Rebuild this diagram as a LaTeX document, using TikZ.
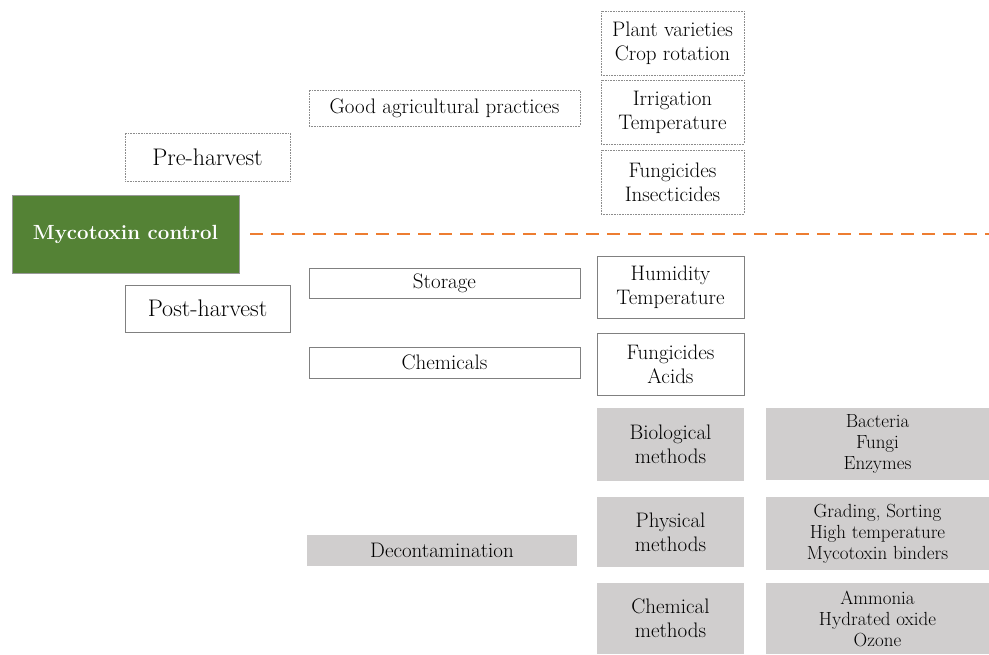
\documentclass[tikz,border=0pt]{standalone}
\usepackage{fontspec}
\begin{document}
\begin{tikzpicture}[x=1pt,y=-1pt,
  base/.style={rectangle, inner sep=1pt, align=center, text=black},
  dotbox/.style={base, draw=black!45, densely dotted, line width=0.6pt, fill=white},
  solidbox/.style={base, draw=black!50, line width=0.8pt, fill=white},
  greybox/.style={base, fill={rgb,255:red,208;green,206;blue,206}, draw=none},
  big/.style={font=\fontsize{24}{26}\selectfont},
  mid/.style={font=\fontsize{21}{24}\selectfont},
  sml/.style={font=\fontsize{19}{21}\selectfont}]
\useasboundingbox (0,0) rectangle (989,654);
\fill[white] (0,0) rectangle (989,654);
% main
\node[base, fill={rgb,255:red,84;green,130;blue,53}, draw=black!40, text=white,
  font=\fontsize{20.5}{24}\selectfont\bfseries,
  minimum width=227pt, minimum height=78pt] (myco) at (125.5,234) {Mycotoxin control};
\coordinate (lineend) at (989,234);
\draw[draw={rgb,255:red,237;green,125;blue,49}, line width=2.5pt, dash pattern=on 13pt off 8pt]
  ([xshift=11pt]myco.east) -- (lineend);
% pre-harvest branch
\node[dotbox, big, minimum width=165pt, minimum height=48pt] (pre) at (207.5,157) {Pre-harvest};
\node[dotbox, mid, minimum width=271pt, minimum height=36pt] (gap) at (444.5,108) {Good agricultural practices};
\node[dotbox, mid, minimum width=143pt, minimum height=64pt] (plant) at (672.5,43) {Plant varieties\\Crop rotation};
\node[dotbox, mid, minimum width=143pt, minimum height=64pt] (irr) at (672.5,112) {Irrigation\\Temperature};
\node[dotbox, mid, minimum width=143pt, minimum height=64pt] (fung) at (672.5,182) {Fungicides\\Insecticides};
% post-harvest branch
\node[solidbox, big, minimum width=165pt, minimum height=47pt] (post) at (207.5,308.5) {Post-harvest};
\node[solidbox, mid, minimum width=271pt, minimum height=30pt] (stor) at (444.5,283) {Storage};
\node[solidbox, mid, minimum width=147pt, minimum height=62pt] (hum) at (670.5,287) {Humidity\\Temperature};
\node[solidbox, mid, minimum width=271pt, minimum height=31pt] (chem) at (444.5,362.5) {Chemicals};
\node[solidbox, mid, minimum width=147pt, minimum height=62pt] (acid) at (670.5,364) {Fungicides\\Acids};
% decontamination
\node[greybox, mid, minimum width=270pt, minimum height=31pt] (decon) at (442,550.5) {Decontamination};
\node[greybox, mid, minimum width=147pt, minimum height=73pt] (bio) at (670.5,444.5) {Biological\\methods};
\node[greybox, sml, minimum width=223pt, minimum height=72pt] (biox) at (877.5,444) {Bacteria\\Fungi\\Enzymes};
\node[greybox, mid, minimum width=147pt, minimum height=70pt] (phys) at (670.5,532) {Physical\\methods};
\node[greybox, sml, minimum width=223pt, minimum height=73pt] (physx) at (877.5,533.5) {Grading, Sorting\\High temperature\\Mycotoxin binders};
\node[greybox, mid, minimum width=147pt, minimum height=71pt] (chm) at (670.5,618.5) {Chemical\\methods};
\node[greybox, sml, minimum width=223pt, minimum height=71pt] (chmx) at (877.5,618.5) {Ammonia\\Hydrated oxide\\Ozone};
\end{tikzpicture}
\end{document}
